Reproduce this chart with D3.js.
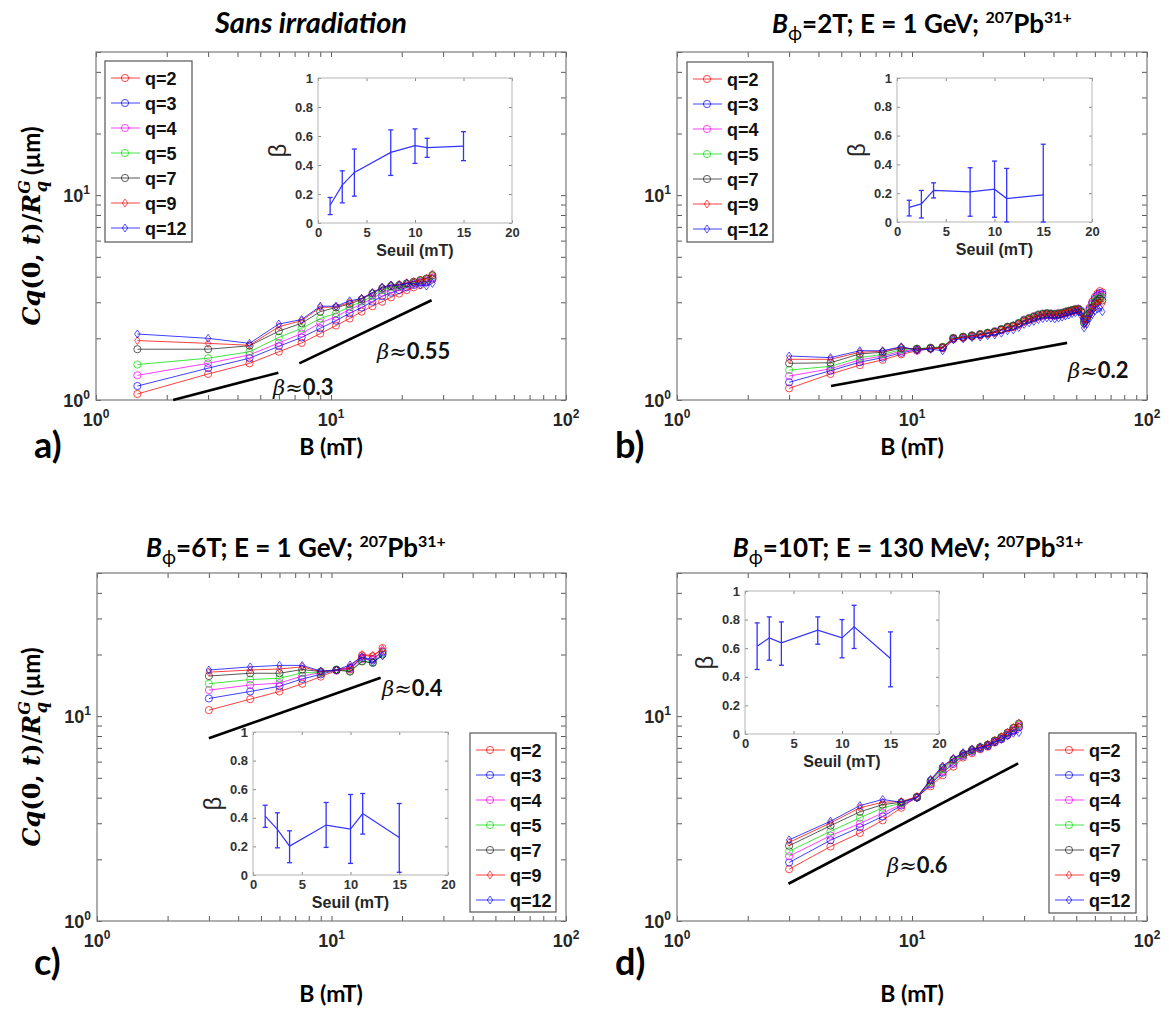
<!DOCTYPE html>
<html><head><meta charset="utf-8">
<script src="https://cdn.jsdelivr.net/npm/d3@7"></script>
<style>body{margin:0;background:#fff}</style>
</head><body>
<svg id="fig" width="1169" height="1019" xmlns="http://www.w3.org/2000/svg"></svg>
<script>
// ---------------- DATA ----------------
const qLabels = ["q=2","q=3","q=4","q=5","q=7","q=9","q=12"];
const qColors = ["#ff0000","#0000ff","#ff00ff","#00dd00","#222222","#ff0000","#0000ff"];
const qShapes = ["circle","circle","circle","circle","circle","diamond","diamond"];

// B (mT) values
const bA = [1.5,3,4.5,6,7.5,9,10.5,12,13.5,15,16.5,18,19.5,21,22.5,24,25.5,27];
const bB = [3,4.5,6,7.5,9,10.5,12,13.5,15,16.5,18,19.5,21,22.5,24,25.5,27,28.5,30,31.5,33,34.5,36,37.5,39,40.5,42,43.5,45,46.5,48,49.5,51,52.5,54,55.5,57,58.5,60,61.5,63,64.5];
const bC = [3,4.5,6,7.5,9,10.5,12,13.5,15,16.5];
const bD = [3,4.5,6,7.5,9,10.5,12,13.5,15,16.5,18,19.5,21,22.5,24,25.5,27,28.5];

// Cq(0,t)/Rq^G (um), rows = q=2,3,4,5,7,9,12
const cqA = [
 [1.07,1.34,1.51,1.72,1.90,2.11,2.31,2.50,2.70,2.87,3.02,3.17,3.31,3.44,3.55,3.64,3.75,3.88],
 [1.17,1.43,1.60,1.83,2.02,2.24,2.44,2.65,2.83,3.02,3.21,3.34,3.44,3.55,3.64,3.74,3.80,3.92],
 [1.32,1.51,1.66,1.90,2.11,2.38,2.55,2.77,2.94,3.13,3.34,3.47,3.55,3.62,3.71,3.78,3.85,3.97],
 [1.49,1.60,1.72,2.02,2.24,2.50,2.65,2.85,3.02,3.21,3.44,3.55,3.60,3.67,3.74,3.82,3.89,4.03],
 [1.77,1.77,1.84,2.17,2.37,2.70,2.83,2.94,3.10,3.31,3.51,3.60,3.64,3.71,3.78,3.85,3.92,4.07],
 [1.95,1.89,1.85,2.28,2.44,2.83,2.85,2.99,3.13,3.34,3.55,3.64,3.67,3.74,3.78,3.85,3.92,4.12],
 [2.10,2.00,1.89,2.35,2.47,2.87,2.87,3.05,3.13,3.34,3.55,3.64,3.64,3.71,3.71,3.64,3.60,3.71]
];
const cqB = [
 [1.14,1.34,1.48,1.57,1.67,1.74,1.78,1.79,1.98,2.01,2.04,2.07,2.10,2.13,2.19,2.24,2.27,2.33,2.41,2.46,2.50,2.55,2.58,2.60,2.59,2.58,2.60,2.62,2.65,2.68,2.71,2.74,2.76,2.70,2.50,2.62,2.82,3.02,3.18,3.30,3.40,3.35],
 [1.22,1.39,1.53,1.61,1.70,1.76,1.79,1.80,2.00,2.03,2.06,2.09,2.12,2.15,2.21,2.27,2.30,2.37,2.45,2.50,2.55,2.60,2.63,2.64,2.63,2.62,2.64,2.66,2.69,2.72,2.74,2.77,2.79,2.72,2.48,2.58,2.78,2.97,3.12,3.24,3.33,3.28],
 [1.31,1.42,1.57,1.64,1.73,1.77,1.80,1.81,2.01,2.03,2.07,2.10,2.13,2.17,2.22,2.28,2.31,2.38,2.47,2.52,2.57,2.62,2.64,2.66,2.65,2.64,2.66,2.67,2.70,2.73,2.75,2.78,2.79,2.71,2.45,2.55,2.74,2.93,3.07,3.18,3.27,3.22],
 [1.40,1.46,1.61,1.67,1.76,1.78,1.80,1.82,2.01,2.04,2.07,2.10,2.13,2.16,2.22,2.28,2.31,2.38,2.46,2.51,2.56,2.61,2.64,2.66,2.64,2.63,2.65,2.66,2.70,2.72,2.75,2.77,2.78,2.70,2.42,2.52,2.70,2.88,3.02,3.12,3.20,3.15],
 [1.51,1.52,1.68,1.71,1.79,1.78,1.79,1.81,2.00,2.03,2.06,2.09,2.12,2.15,2.21,2.27,2.30,2.36,2.44,2.49,2.54,2.59,2.62,2.64,2.63,2.62,2.63,2.65,2.68,2.71,2.74,2.76,2.77,2.68,2.38,2.48,2.66,2.83,2.96,3.05,3.12,3.06],
 [1.58,1.58,1.71,1.73,1.81,1.76,1.78,1.80,1.99,2.02,2.05,2.08,2.11,2.13,2.20,2.25,2.28,2.34,2.42,2.47,2.51,2.56,2.59,2.61,2.60,2.59,2.61,2.63,2.66,2.69,2.72,2.75,2.76,2.66,2.33,2.43,2.60,2.76,2.88,2.96,3.02,2.95],
 [1.64,1.61,1.74,1.74,1.82,1.75,1.77,1.74,1.97,1.99,2.02,2.03,2.06,2.08,2.12,2.18,2.20,2.26,2.34,2.38,2.42,2.47,2.50,2.52,2.51,2.49,2.51,2.54,2.57,2.60,2.64,2.67,2.70,2.58,2.25,2.35,2.50,2.62,2.72,2.78,2.82,2.70]
];
const cqC = [
 [10.7,12.1,13.2,14.4,15.6,16.7,16.9,19.8,19.6,21.5],
 [12.2,13.2,14.0,15.2,16.0,16.8,17.2,19.3,19.0,20.6],
 [13.4,14.2,14.5,15.7,16.3,16.8,17.0,19.0,18.8,20.8],
 [14.4,15.1,15.3,16.3,16.3,16.9,16.6,18.6,18.3,20.3],
 [15.7,16.2,16.2,16.9,16.5,16.8,16.5,18.5,18.2,20.0],
 [16.4,16.8,17.0,17.4,16.5,16.8,17.4,20.0,19.8,21.2],
 [16.8,17.4,17.7,17.7,16.6,16.8,17.8,19.5,18.4,19.7]
];
const cqD = [
 [1.79,2.31,2.69,3.10,3.57,4.04,4.55,5.14,5.67,6.28,6.59,6.89,7.10,7.43,7.71,8.07,8.47,8.80],
 [1.93,2.48,2.87,3.24,3.66,4.00,4.65,5.30,5.85,6.40,6.70,6.95,7.15,7.48,7.75,8.10,8.50,8.85],
 [2.07,2.61,2.99,3.37,3.70,4.02,4.70,5.40,5.95,6.45,6.75,7.00,7.20,7.55,7.85,8.20,8.60,9.00],
 [2.19,2.74,3.19,3.57,3.76,4.03,4.75,5.50,6.05,6.50,6.80,7.05,7.25,7.60,7.90,8.30,8.75,9.10],
 [2.33,2.92,3.41,3.70,3.80,4.02,4.85,5.60,6.15,6.55,6.85,7.05,7.25,7.60,7.90,8.30,8.75,9.20],
 [2.42,3.01,3.57,3.80,3.83,4.05,4.88,5.65,6.20,6.60,6.90,7.10,7.30,7.62,7.95,8.35,8.80,9.25],
 [2.49,3.07,3.66,3.92,3.80,4.00,4.91,5.71,6.21,6.64,6.89,7.03,7.20,7.48,7.71,8.00,8.26,8.32]
];

// power-law guide lines [B, value] endpoints and exponents
const fitA1 = [[2.13,1.0],[5.97,1.36]];
const fitA2 = [[7.33,1.51],[26.8,3.07]];
const fitB  = [[4.52,1.17],[45.7,1.9]];
const fitC  = [[3.0,7.8],[16.2,15.4]];
const fitD  = [[2.98,1.52],[28.3,5.88]];
const betaTextA = ["0.3","0.55"], betaTextB = ["0.2"], betaTextC = ["0.4"], betaTextD = ["0.6"];

// insets: beta vs Seuil (mT)
const seuil = [1.25,2.5,3.75,7.5,10,11.25,15];
const betaA = [0.122,0.261,0.349,0.487,0.533,0.520,0.530];
const betaAlo = [0.058,0.139,0.185,0.328,0.411,0.453,0.430];
const betaAhi = [0.176,0.360,0.510,0.642,0.649,0.584,0.630];
const betaB = [0.102,0.126,0.219,0.209,0.228,0.163,0.188];
const betaBlo = [0.042,0.028,0.167,0.040,0.033,0.0,0.0];
const betaBhi = [0.151,0.219,0.272,0.377,0.423,0.372,0.540];
const betaC = [0.412,0.319,0.202,0.349,0.321,0.430,0.263];
const betaClo = [0.333,0.190,0.086,0.193,0.081,0.286,0.019];
const betaChi = [0.488,0.435,0.309,0.507,0.563,0.570,0.500];
const betaD = [0.614,0.672,0.637,0.726,0.672,0.749,0.528];
const betaDlo = [0.451,0.516,0.481,0.628,0.533,0.598,0.330];
const betaDhi = [0.777,0.819,0.784,0.819,0.800,0.900,0.714];

const xMajor = [1,10,100];
const yMajor = [1,10];
const insetXTicks = [0,5,10,15,20];
const insetYTicks = [0,0.2,0.4,0.6,0.8,1];

// ---------------- DRAWING ----------------
const svg = d3.select("#fig");
const F_SANS = "'Liberation Sans', Arial, sans-serif";
const F_CAL = "Lato, 'Open Sans', sans-serif";
const F_SERIF = "'DejaVu Serif', serif";
svg.append("rect").attr("width",1169).attr("height",1019).attr("fill","#fff");

function logMinor(lo, hi){
  const out=[];
  for(let e=lo;e<hi;e*=10) for(let k=2;k<=9;k++){ if(k*e<=hi) out.push(k*e); }
  return out;
}

function marker(g, shape, cx, cy, color){
  if(shape==="circle"){
    g.append("circle").attr("cx",cx).attr("cy",cy).attr("r",3.6)
      .attr("fill","none").attr("stroke",color).attr("stroke-width",0.9).attr("stroke-opacity",0.8);
  } else {
    g.append("path").attr("d",d3.symbol(d3.symbolDiamond,26)())
      .attr("transform",`translate(${cx},${cy}) scale(1,0.85)`)
      .attr("fill","none").attr("stroke",color).attr("stroke-width",0.9).attr("stroke-opacity",0.8);
  }
}

function powLabel(g, x, y, exp, anchor){
  const t = g.append("text").attr("x",x).attr("y",y).attr("text-anchor",anchor)
    .attr("font-family",F_SANS).attr("font-weight","bold").attr("font-size",18).attr("fill","#262626");
  t.append("tspan").text("10");
  t.append("tspan").attr("dy",-8).attr("font-size",12).text(exp);
}

function drawMain(p){
  const g = svg.append("g");
  const [x0,y0,x1,y1] = p.box;
  const x = d3.scaleLog().domain([1,100]).range([x0,x1]);
  const y = d3.scaleLog().domain([1,50]).range([y1,y0]);
  const xt = xMajor.concat(logMinor(1,100));
  const yt = yMajor.concat(logMinor(1,50));
  const tk = (sel)=>{ sel.select(".domain").remove(); sel.selectAll("line").attr("stroke","#5a5a5a"); };
  g.append("g").attr("transform",`translate(0,${y1})`).call(d3.axisBottom(x).tickValues(xt).tickSize(-5).tickFormat("")).call(tk);
  g.append("g").attr("transform",`translate(0,${y0})`).call(d3.axisTop(x).tickValues(xt).tickSize(-5).tickFormat("")).call(tk);
  g.append("g").attr("transform",`translate(${x0},0)`).call(d3.axisLeft(y).tickValues(yt).tickSize(-5).tickFormat("")).call(tk);
  g.append("g").attr("transform",`translate(${x1},0)`).call(d3.axisRight(y).tickValues(yt).tickSize(-5).tickFormat("")).call(tk);
  g.append("rect").attr("x",x0).attr("y",y0).attr("width",x1-x0).attr("height",y1-y0)
    .attr("fill","none").attr("stroke","#7a7a7a").attr("stroke-width",1.2);
  xMajor.forEach(v=>powLabel(g, x(v), y1+26, String(Math.log10(v)), "middle"));
  yMajor.forEach(v=>powLabel(g, x0-6, y(v)+7, String(Math.log10(v)), "end"));

  // series
  const line = d3.line().x(d=>x(d[0])).y(d=>y(d[1]));
  p.cq.forEach((vals,i)=>{
    const pts = p.B.map((b,j)=>[b,vals[j]]).filter(d=>d[1]!==undefined);
    g.append("path").attr("d",line(pts)).attr("fill","none").attr("stroke",qColors[i])
      .attr("stroke-width",1).attr("stroke-opacity",0.75);
    pts.forEach(d=>marker(g, qShapes[i], x(d[0]), y(d[1]), qColors[i]));
  });
  // guide lines
  p.fits.forEach(f=>{
    g.append("path").attr("d",line(f)).attr("stroke","#000").attr("stroke-width",2.6).attr("fill","none");
  });
  p.betaPos.forEach((bp,i)=>{
    const t = g.append("text").attr("x",bp[0]).attr("y",bp[1]).attr("fill","#111");
    t.append("tspan").attr("font-family",F_SERIF).attr("font-style","italic").attr("font-size",21).text("β");
    t.append("tspan").attr("font-family",F_SERIF).attr("font-size",21).text("≈");
    t.append("tspan").attr("font-family",F_CAL).attr("font-weight","bold").attr("font-size",22).text(p.betaText[i]);
  });
  return {x,y};
}

function drawLegend(L){
  const g = svg.append("g");
  g.append("rect").attr("x",L.x).attr("y",L.y).attr("width",L.w).attr("height",L.h)
    .attr("fill","#fff").attr("stroke","#555").attr("stroke-width",1.2);
  qLabels.forEach((lab,i)=>{
    const yy = L.y + 17 + i*25;
    g.append("line").attr("x1",L.x+6).attr("x2",L.x+35).attr("y1",yy).attr("y2",yy)
      .attr("stroke",qColors[i]).attr("stroke-width",1).attr("stroke-opacity",0.75);
    marker(g, qShapes[i], L.x+20, yy, qColors[i]);
    g.append("text").attr("x",L.x+40).attr("y",yy+6.5).attr("font-family",F_SANS)
      .attr("font-weight","bold").attr("font-size",18).attr("fill","#111").text(lab);
  });
}

function drawInset(I){
  const g = svg.append("g");
  const [x0,y0,x1,y1] = I.box;
  const xs = d3.scaleLinear().domain([0,20]).range([x0,x1]);
  const ys = d3.scaleLinear().domain([0,1]).range([y1,y0]);
  g.append("rect").attr("x",x0).attr("y",y0).attr("width",x1-x0).attr("height",y1-y0).attr("fill","#fff");
  const fmt = d=> d===0?"0":(d===1?"1":d.toFixed(1));
  const st = (sel)=>{ sel.select(".domain").remove(); sel.selectAll("line").attr("stroke","#888");
    sel.selectAll("text").attr("font-family",F_SANS).attr("font-weight","bold").attr("font-size",13).attr("fill","#333"); };
  g.append("g").attr("transform",`translate(0,${y1})`).call(d3.axisBottom(xs).tickValues(insetXTicks).tickSize(-3).tickPadding(5).tickFormat(d3.format("d"))).call(st);
  g.append("g").attr("transform",`translate(0,${y0})`).call(d3.axisTop(xs).tickValues(insetXTicks).tickSize(-3).tickFormat("")).call(st);
  g.append("g").attr("transform",`translate(${x0},0)`).call(d3.axisLeft(ys).tickValues(insetYTicks).tickSize(-3).tickPadding(5).tickFormat(fmt)).call(st);
  g.append("g").attr("transform",`translate(${x1},0)`).call(d3.axisRight(ys).tickValues(insetYTicks).tickSize(-3).tickFormat("")).call(st);
  g.append("rect").attr("x",x0).attr("y",y0).attr("width",x1-x0).attr("height",y1-y0)
    .attr("fill","none").attr("stroke","#b5b5b5").attr("stroke-width",1);
  g.append("text").attr("x",(x0+x1)/2).attr("y",y1+33).attr("text-anchor","middle")
    .attr("font-family",F_SANS).attr("font-weight","bold").attr("font-size",16).attr("fill","#262626").text("Seuil (mT)");
  g.append("text").attr("transform",`translate(${x0-32},${(y0+y1)/2}) rotate(-90)`).attr("text-anchor","middle")
    .attr("font-family",F_SANS).attr("font-size",24).attr("fill","#262626").text("β");
  const col = "#3333ff";
  const line = d3.line().x((d,i)=>xs(seuil[i])).y(d=>ys(d));
  g.append("path").attr("d",line(I.beta)).attr("fill","none").attr("stroke",col).attr("stroke-width",1.2);
  seuil.forEach((s,i)=>{
    const xx = xs(s);
    const lo = ys(Math.max(0,I.lo[i])), hi = ys(I.hi[i]);
    g.append("line").attr("x1",xx).attr("x2",xx).attr("y1",lo).attr("y2",hi).attr("stroke",col).attr("stroke-width",1.3);
    [lo,hi].forEach(v=>g.append("line").attr("x1",xx-2.5).attr("x2",xx+2.5).attr("y1",v).attr("y2",v).attr("stroke",col).attr("stroke-width",1.3));
  });
}

function titleIrr(cx, y, field, energy){
  const t = svg.append("text").attr("x",cx).attr("y",y).attr("text-anchor","middle")
    .attr("font-family",F_CAL).attr("font-weight","bold").attr("font-size",26).attr("fill","#000");
  t.append("tspan").attr("font-style","italic").text("B");
  t.append("tspan").attr("dy",7).attr("font-size",19).attr("font-weight","normal").text("ϕ");
  t.append("tspan").attr("dy",-7).text(`=${field}; E = ${energy}; `);
  t.append("tspan").attr("dy",-10).attr("font-size",16).text("207");
  t.append("tspan").attr("dy",10).text("Pb");
  t.append("tspan").attr("dy",-10).attr("font-size",16).text("31+");
}

function yLabel(cx, cy){
  const t = svg.append("text").attr("transform",`translate(${cx},${cy}) rotate(-90)`).attr("text-anchor","middle")
    .attr("font-weight","bold").attr("font-size",24).attr("fill","#000");
  t.append("tspan").attr("font-family",F_SERIF).attr("font-style","italic").text("Cq");
  t.append("tspan").attr("font-family",F_SERIF).text("(0, ");
  t.append("tspan").attr("font-family",F_SERIF).attr("font-style","italic").text("t");
  t.append("tspan").attr("font-family",F_SERIF).text(")/");
  t.append("tspan").attr("font-family",F_SERIF).attr("font-style","italic").text("R");
  t.append("tspan").attr("font-family",F_SERIF).attr("font-style","italic").attr("font-size",16).attr("dy",-10).text("G");
  t.append("tspan").attr("font-family",F_SERIF).attr("font-style","italic").attr("font-size",16).attr("dx",-12).attr("dy",17).text("q");
  t.append("tspan").attr("font-family",F_CAL).attr("dy",-7).text(" (µm)");
}

function bottomLabels(cx, y, tagX, tagY, tag){
  svg.append("text").attr("x",cx).attr("y",y).attr("text-anchor","middle").attr("font-family",F_CAL)
    .attr("font-weight","bold").attr("font-size",23).text("B (mT)");
  svg.append("text").attr("x",tagX).attr("y",tagY).attr("font-family",F_CAL)
    .attr("font-weight","bold").attr("font-size",36).text(tag);
}

const panels = [
  {box:[96,52,566,400], B:bA, cq:cqA, fits:[fitA1,fitA2], betaText:betaTextA, betaPos:[[273,395],[377,359]],
   legend:{x:105,y:61,w:87,h:181}, inset:{box:[318,78,512,223], beta:betaA, lo:betaAlo, hi:betaAhi}},
  {box:[677,52,1147,400], B:bB, cq:cqB, fits:[fitB], betaText:betaTextB, betaPos:[[1068,378]],
   legend:{x:687,y:62,w:86,h:180}, inset:{box:[897,78,1092,222], beta:betaB, lo:betaBlo, hi:betaBhi}},
  {box:[97,573,566,921], B:bC, cq:cqC, fits:[fitC], betaText:betaTextC, betaPos:[[382,696]],
   legend:{x:470,y:733,w:86,h:179}, inset:{box:[253,732,448,875], beta:betaC, lo:betaClo, hi:betaChi}},
  {box:[677,573,1147,921], B:bD, cq:cqD, fits:[fitD], betaText:betaTextD, betaPos:[[887,873]],
   legend:{x:1049,y:733,w:87,h:180}, inset:{box:[745,591,939,734], beta:betaD, lo:betaDlo, hi:betaDhi}}
];

panels.forEach(p=>{ drawMain(p); drawLegend(p.legend); drawInset(p.inset); });

// titles
svg.append("text").attr("x",311).attr("y",33).attr("text-anchor","middle").attr("font-family",F_CAL)
  .attr("font-weight","bold").attr("font-style","italic").attr("font-size",29).text("Sans irradiation");
titleIrr(922, 33, "2T", "1 GeV");
titleIrr(296, 557, "6T", "1 GeV");
titleIrr(908, 557, "10T", "130 MeV");

yLabel(40, 226);
yLabel(40, 747);

bottomLabels(331, 455, 34, 458, "a)");
bottomLabels(912, 455, 615, 458, "b)");
bottomLabels(331, 1002, 34, 975, "c)");
bottomLabels(912, 1002, 615, 975, "d)");
</script>
</body></html>
